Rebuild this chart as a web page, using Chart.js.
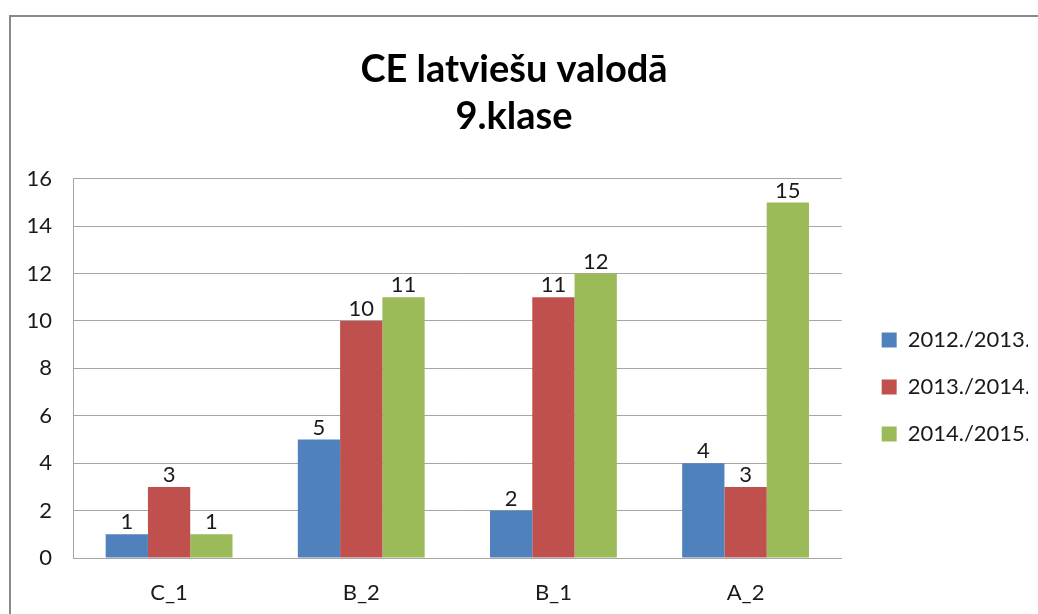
<!DOCTYPE html>
<html>
<head>
<meta charset="utf-8">
<script src="https://cdn.jsdelivr.net/npm/chart.js@4"></script>
<style>
  html, body { margin: 0; padding: 0; background: #fff; }
  #wrap { position: relative; width: 1038px; height: 614px; overflow: hidden; }
  #frame { position: absolute; left: 9px; top: 15px; width: 1040px; height: 620px; border: 2px solid #8a8a8a; box-sizing: border-box; }
  #chart { position: absolute; left: 0; top: 0; }
</style>
</head>
<body>
<div id="wrap">
  <div id="frame"></div>
  <canvas id="chart" width="1038" height="614"></canvas>
</div>
<script>
// Kategorijas un sērijas
const categories = ['C_1', 'B_2', 'B_1', 'A_2'];
const seriesNames = ['2012./2013.', '2013./2014.', '2014./2015.'];
const values2012 = [1, 5, 2, 4];
const values2013 = [3, 10, 11, 3];
const values2014 = [1, 11, 12, 15];
const yTicks = [0, 2, 4, 6, 8, 10, 12, 14, 16];

const colors = ['#4F81BD', '#C0504D', '#9BBB59'];
const fontFamily = 'Lato, "Open Sans", sans-serif';

// vērtības virs stabiņiem
const valueLabels = {
    id: 'valueLabels',
    afterDatasetsDraw(chart) {
        const ctx = chart.ctx;
        ctx.save();
        ctx.font = '22px ' + fontFamily;
        ctx.fillStyle = '#1a1a1a';
        ctx.textAlign = 'center';
        ctx.textBaseline = 'bottom';
        chart.data.datasets.forEach((ds, i) => {
            chart.getDatasetMeta(i).data.forEach((bar, j) => {
                ctx.fillText(ds.data[j], bar.x, bar.y - 1);
            });
        });
        ctx.restore();
    }
};

const ctx = document.getElementById('chart').getContext('2d');
new Chart(ctx, {
    type: 'bar',
    data: {
        labels: categories,
        datasets: [values2012, values2013, values2014].map((vals, i) => ({
            label: seriesNames[i],
            data: vals,
            backgroundColor: colors[i],
            borderWidth: 0,
            categoryPercentage: 0.66,
            barPercentage: 1.0
        }))
    },
    options: {
        responsive: false,
        animation: false,
        layout: { padding: { left: 0, right: 10, top: 0, bottom: 0 } },
        plugins: {
            title: {
                display: true,
                text: ['CE latviešu valodā', '9.klase'],
                color: '#000',
                font: { family: fontFamily, size: 38, weight: 'bold', lineHeight: 1.22 },
                padding: { top: 47, bottom: 39 }
            },
            legend: {
                position: 'right',
                title: { display: true, text: '', font: { size: 20, lineHeight: 1 }, padding: 70 },
                labels: {
                    boxWidth: 15,
                    boxHeight: 15,
                    padding: 25,
                    color: '#1a1a1a',
                    font: { family: fontFamily, size: 22 }
                }
            },
            tooltip: { enabled: false }
        },
        scales: {
            x: {
                grid: { display: false, drawTicks: false },
                border: { display: true, color: '#a6a6a6', width: 1 },
                ticks: { padding: 22, color: '#1a1a1a', font: { family: fontFamily, size: 22 } },
                afterFit: s => { s.height = 56; }
            },
            y: {
                min: 0,
                max: 16,
                afterBuildTicks: s => { s.ticks = yTicks.map(v => ({ value: v })); },
                grid: { color: '#a6a6a6', drawTicks: false },
                border: { display: true, color: '#a6a6a6', width: 1 },
                ticks: { padding: 21, color: '#1a1a1a', font: { family: fontFamily, size: 22 } },
                afterFit: s => { s.width = 73; }
            },
            gap: {
                type: 'linear',
                position: 'right',
                display: true,
                grid: { display: false, drawTicks: false },
                border: { display: false },
                ticks: { display: false },
                afterFit: s => { s.width = 15; }
            }
        }
    },
    plugins: [valueLabels]
});
</script>
</body>
</html>
